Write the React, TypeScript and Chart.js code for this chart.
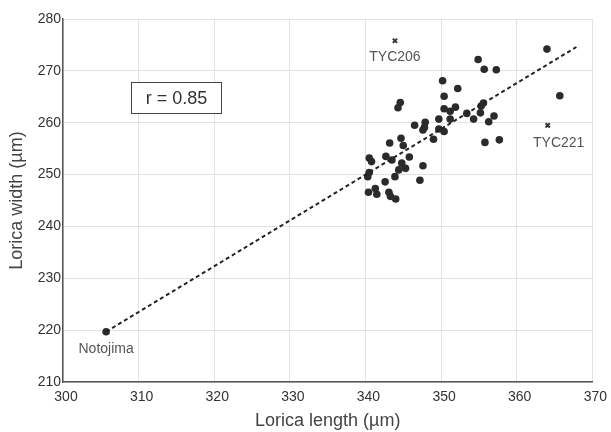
import React, { useEffect, useRef } from "react";
import { Chart, registerables } from "chart.js";

Chart.register(...registerables);

// Population samples: lorica length (x) and lorica width (y), in µm
const loricaLength = [
  364.0, 365.7, 354.9, 355.7, 357.3, 350.2, 350.4, 352.2, 350.4, 351.2,
  351.9, 353.4, 354.3, 355.2, 355.3, 355.6, 356.3, 357.0, 355.8, 357.7,
  349.7, 351.2, 349.7, 350.4, 349.0, 347.9, 347.8, 347.6, 346.5, 344.6,
  344.3, 344.7, 345.0, 343.2, 345.8, 344.8, 345.3, 344.4, 343.5, 342.7,
  347.6, 347.2, 343.9, 342.6, 340.5, 340.8, 340.5, 340.3, 341.3, 340.4,
  341.5, 343.1, 343.3, 344.0, 305.7,
];
const loricaWidth = [
  274.2, 265.2, 272.2, 270.3, 270.2, 268.1, 265.1, 266.6, 262.7, 262.2,
  263.0, 261.8, 260.7, 261.9, 263.2, 263.8, 260.2, 261.3, 256.2, 256.7,
  260.7, 260.7, 258.8, 258.3, 256.8, 260.1, 259.1, 258.6, 259.5, 263.9,
  262.9, 257.0, 255.6, 256.1, 253.4, 252.2, 251.2, 250.9, 252.8, 253.5,
  251.7, 248.9, 249.6, 248.6, 253.2, 252.5, 250.4, 249.6, 247.3, 246.6,
  246.2, 246.6, 245.8, 245.3, 219.7,
];

// Excluded samples (crosses)
const excludedNames = ["TYC206", "TYC221"];
const excludedLength = [343.9, 364.1];
const excludedWidth = [275.8, 259.5];

// Labelled point
const notojimaName = "Notojima";
const notojimaLength = 305.7;
const notojimaWidth = 219.7;

// Regression line endpoints
const trendLength = [305.7, 367.9];
const trendWidth = [219.7, 274.6];

const rLabel = "r = 0.85";
const rBoxCenter = [315.0, 264.8];

const xMin = 300, xMax = 370, yMin = 210, yMax = 280, step = 10;

const FONT = "'Liberation Sans', Arial, sans-serif";

export default function App() {
  const ref = useRef<HTMLCanvasElement | null>(null);

  useEffect(() => {
    document.body.style.margin = "0";
    const canvas = ref.current;
    if (!canvas) return;

    const labelsPlugin = {
      id: "labelsPlugin",
      afterDatasetsDraw(chart: any) {
        const { ctx, scales } = chart;
        const xs = scales.x, ys = scales.y;
        ctx.save();
        ctx.font = `14px ${FONT}`;
        ctx.fillStyle = "#555";
        ctx.textAlign = "center";
        ctx.textBaseline = "middle";
        // excluded labels
        excludedNames.forEach((n, i) => {
          const px = xs.getPixelForValue(excludedLength[i]);
          const py = ys.getPixelForValue(excludedWidth[i]);
          const dx = i === 1 ? 11 : 0;
          const dy = i === 1 ? 18 : 16;
          ctx.fillText(n, px + dx, py + dy);
        });
        // Notojima
        ctx.fillText(
          notojimaName,
          xs.getPixelForValue(notojimaLength),
          ys.getPixelForValue(notojimaWidth) + 17
        );
        // r box
        const cx = xs.getPixelForValue(rBoxCenter[0]);
        const cy = ys.getPixelForValue(rBoxCenter[1]);
        ctx.font = `18px ${FONT}`;
        const w = 90, h = 31;
        ctx.fillStyle = "#fff";
        ctx.fillRect(cx - w / 2, cy - h / 2, w, h);
        ctx.strokeStyle = "#444";
        ctx.lineWidth = 1;
        ctx.strokeRect(Math.round(cx - w / 2) + 0.5, Math.round(cy - h / 2) + 0.5, w, h);
        ctx.fillStyle = "#333";
        ctx.fillText(rLabel, cx, cy + 1);
        ctx.restore();
      },
    };

    const chart = new Chart(canvas, {
      type: "scatter",
      data: {
        datasets: [
          {
            type: "line",
            data: trendLength.map((x, i) => ({ x, y: trendWidth[i] })),
            borderColor: "#222",
            borderWidth: 2,
            borderDash: [4, 3],
            pointRadius: 0,
            fill: false,
          } as any,
          {
            data: loricaLength.map((x, i) => ({ x, y: loricaWidth[i] })),
            backgroundColor: "#2b2b2b",
            borderColor: "#2b2b2b",
            borderWidth: 0,
            pointRadius: 3.8,
          },
          {
            data: excludedLength.map((x, i) => ({ x, y: excludedWidth[i] })),
            pointStyle: "crossRot",
            borderColor: "#333",
            borderWidth: 2,
            pointRadius: 3,
          },
        ],
      },
      options: {
        responsive: false,
        animation: false,
        events: [],
        layout: { padding: { top: 19, right: 17, left: 0, bottom: 0 } },
        plugins: { legend: { display: false }, tooltip: { enabled: false } },
        scales: {
          x: {
            type: "linear",
            min: xMin,
            max: xMax,
            afterFit(s: any) { s.height = 50; },
            ticks: {
              stepSize: step,
              color: "#333",
              font: { family: FONT, size: 14 },
              padding: 7,
              labelOffset: 3,
            },
            grid: { color: "#e2e2e2", lineWidth: 1, drawTicks: false },
            border: { color: "#555", width: 1.5 },
            title: {
              display: true,
              text: "Lorica length (µm)",
              color: "#444",
              font: { family: FONT, size: 18 },
              padding: { top: 0, bottom: 0 },
            },
          },
          y: {
            type: "linear",
            min: yMin,
            max: yMax,
            afterFit(s: any) { s.width = 63; },
            ticks: {
              stepSize: step,
              color: "#333",
              font: { family: FONT, size: 14 },
              padding: 2,
            },
            grid: { color: "#e2e2e2", lineWidth: 1, drawTicks: false },
            border: { color: "#555", width: 1.5 },
            title: {
              display: true,
              text: "Lorica width (µm)",
              color: "#444",
              font: { family: FONT, size: 18 },
              padding: { top: 6, bottom: 0 },
            },
          },
        },
      },
      plugins: [labelsPlugin],
    } as any);

    return () => chart.destroy();
  }, []);

  return (
    <div style={{ width: 611, height: 432 }}>
      <canvas ref={ref} width={611} height={432} />
    </div>
  );
}
